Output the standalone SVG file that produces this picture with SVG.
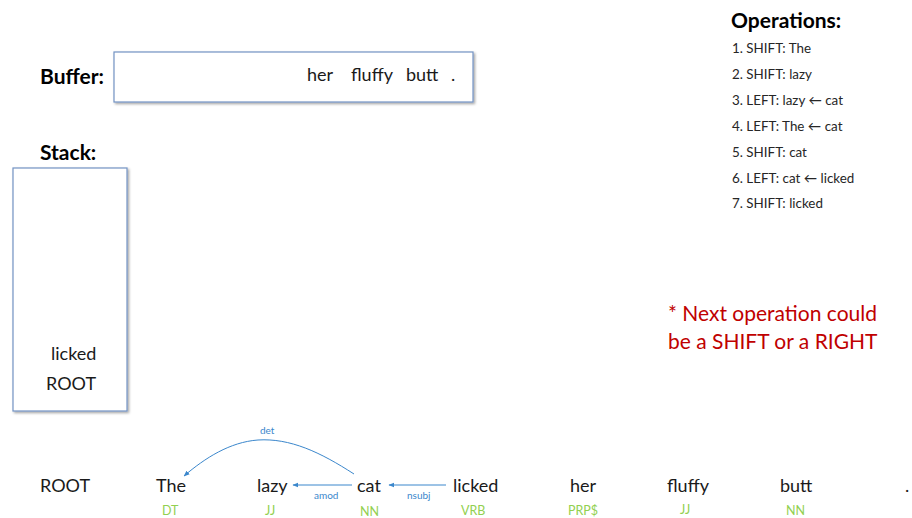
<svg xmlns="http://www.w3.org/2000/svg" width="912" height="518" viewBox="0 0 912 518">
<defs>
<marker id="ah" viewBox="0 0 10 10" refX="9" refY="5" markerWidth="6" markerHeight="6" orient="auto-start-reverse" markerUnits="userSpaceOnUse">
<path d="M0,1 L10,5 L0,9 z" fill="#3b87cc"/>
</marker>
<filter id="sh" x="-10%" y="-10%" width="120%" height="120%">
<feDropShadow dx="1.5" dy="1.5" stdDeviation="1" flood-color="#000" flood-opacity="0.35"/>
</filter>
</defs>
<style>
text{font-family:Lato,"Open Sans","Liberation Sans",sans-serif;fill:#1a1a1a}
.hd{font-weight:bold;font-size:21px;fill:#000}
.box{fill:#fff;stroke:#7393c3;stroke-width:1.2}
.w{font-size:18px}
.op{font-size:13.4px;fill:#262626}
.red{font-size:21px;fill:#c00000}
.pos{font-size:12.5px;fill:#92d050}
.lab{font-size:10px;fill:#3b87cc}
.arc{fill:none;stroke:#3b87cc;stroke-width:1}
</style>
<rect width="912" height="518" fill="#fff"/>
<g id="buffer">
<text class="hd" x="40" y="84">Buffer:</text>
<rect class="box" x="114" y="52" width="359" height="50" filter="url(#sh)"/>
<text class="w" x="307" y="81" font-size="17">her</text>
<text class="w" x="351" y="81" font-size="17">fluffy</text>
<text class="w" x="406" y="81" font-size="17">butt</text>
<text class="w" x="451" y="81" font-size="17">.</text>
</g>
<g id="stack">
<text class="hd" x="40" y="160">Stack:</text>
<rect class="box" x="13" y="168" width="114" height="243" filter="url(#sh)"/>
<text class="w" x="51" y="360" font-size="17">licked</text>
<text class="w" x="46" y="390" font-size="17">ROOT</text>
</g>
<g id="operations">
<text class="hd" x="731" y="28" font-size="22">Operations:</text>
<text class="op" x="732" y="53">1. SHIFT: The</text>
<text class="op" x="732" y="79">2. SHIFT: lazy</text>
<text class="op" x="732" y="105">3. LEFT: lazy ← cat</text>
<text class="op" x="732" y="131">4. LEFT: The ← cat</text>
<text class="op" x="732" y="157">5. SHIFT: cat</text>
<text class="op" x="732" y="183">6. LEFT: cat ← licked</text>
<text class="op" x="732" y="208">7. SHIFT: licked</text>
</g>
<g id="note">
<text class="red" x="668" y="321">* Next operation could</text>
<text class="red" x="668" y="349">be a SHIFT or a RIGHT</text>
</g>
<g id="sentence">
<g id="w-root"><text class="w" x="40" y="492">ROOT</text></g>
<g id="w-the"><text class="w" x="156" y="492">The</text><text class="pos" x="162" y="515">DT</text></g>
<g id="w-lazy"><text class="w" x="257" y="492">lazy</text><text class="pos" x="265" y="515">JJ</text></g>
<g id="w-cat"><text class="w" x="357" y="492">cat</text><text class="pos" x="360" y="516">NN</text></g>
<g id="w-licked"><text class="w" x="453" y="492">licked</text><text class="pos" x="461" y="515">VRB</text></g>
<g id="w-her"><text class="w" x="570" y="492">her</text><text class="pos" x="568" y="515">PRP$</text></g>
<g id="w-fluffy"><text class="w" x="667" y="492">fluffy</text><text class="pos" x="680" y="514">JJ</text></g>
<g id="w-butt"><text class="w" x="780" y="492">butt</text><text class="pos" x="786" y="515">NN</text></g>
<g id="w-dot"><text class="w" x="905" y="492">.</text></g>
</g>
<g id="connectors">
<path class="arc" d="M354,474 C320,452 290,438 258,440 C230,442 205,458 184,476" marker-end="url(#ah)"/>
<text class="lab" x="260" y="434">det</text>
<line class="arc" x1="352" y1="485" x2="293" y2="485" marker-end="url(#ah)"/>
<text class="lab" x="314" y="499">amod</text>
<line class="arc" x1="446" y1="485" x2="389" y2="485" marker-end="url(#ah)"/>
<text class="lab" x="407" y="499">nsubj</text>
</g>
</svg>
